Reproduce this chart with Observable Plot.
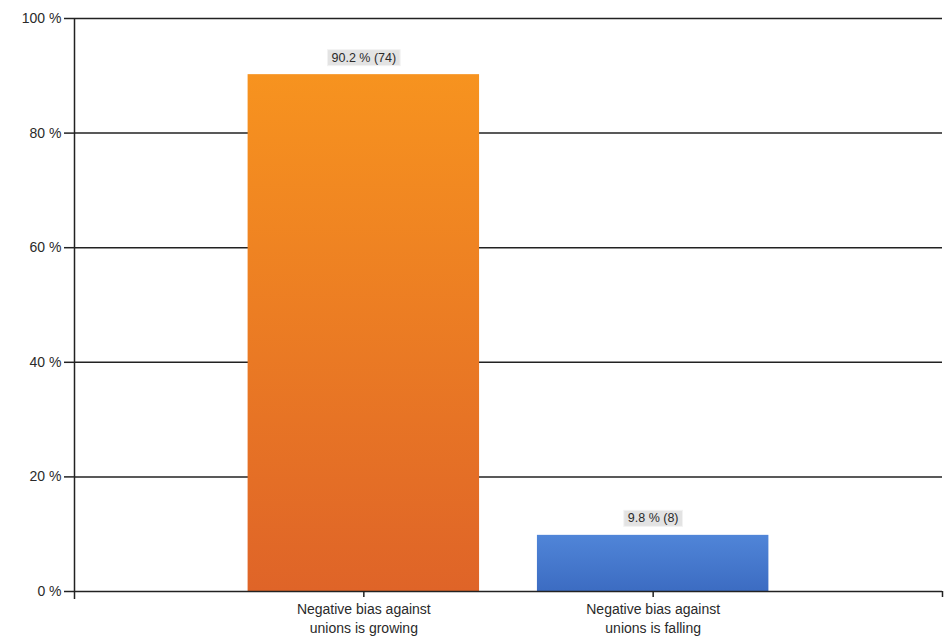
<!DOCTYPE html>
<html>
<head>
<meta charset="utf-8">
<script src="https://cdn.jsdelivr.net/npm/d3@7"></script>
<script src="https://cdn.jsdelivr.net/npm/@observablehq/plot@0.6"></script>
<style>
  html, body { margin: 0; padding: 0; background: #fff; }
  #chart svg { display: block; }
</style>
</head>
<body>
<div id="chart"></div>
<script>
const categories = ["Negative bias against\nunions is growing", "Negative bias against\nunions is falling"];
const percents = [90.2, 9.8];
const counts = [74, 8];
const yTicks = [0, 20, 40, 60, 80, 100];
const gradients = [["#f7931f", "#df6428"], ["#5085d8", "#3c6cc2"]];

const data = categories.map((c, i) => ({
  pos: i + 1,
  category: c,
  value: percents[i],
  count: counts[i],
  label: `${percents[i]} % (${counts[i]})`,
  fill: `url(#grad${i})`
}));

const chart = Plot.plot({
  width: 950,
  height: 643,
  marginLeft: 74,
  marginRight: 8,
  marginTop: 18,
  marginBottom: 52,
  style: { fontFamily: "'Liberation Sans', Arial, sans-serif", color: "#2a2a2a", background: "#fff" },
  x: { type: "linear", domain: [0, 3], axis: null, label: null },
  y: { domain: [0, 100], axis: null, label: null },
  color: { type: "identity" },
  marks: [
    Plot.ruleY(yTicks.filter(d => d > 0), { stroke: "#222", strokeWidth: 1.5 }),
    Plot.rectY(data, { x1: d => d.pos - 0.4, x2: d => d.pos + 0.4, y1: 0, y2: "value", fill: "fill" }),
    Plot.ruleY([0], { stroke: "#222", strokeWidth: 1.5 }),
    Plot.ruleX([0], { stroke: "#222", strokeWidth: 1.5, insetBottom: -8 }),
    Plot.axisY({ ticks: yTicks, label: null, tickSize: 10, tickPadding: 3, tickFormat: d => `${d} %`, fontSize: 14, stroke: "#222", strokeWidth: 1.5, style: { letterSpacing: "0.2px" } }),
    Plot.axisX({ ticks: [1, 2, 3], label: null, tickSize: 6, tickPadding: 3, tickFormat: d => (categories[d - 1] ?? ""), fontSize: 14, lineHeight: 1.35, stroke: "#222", strokeWidth: 1.5, style: { letterSpacing: "1px" } }),
    Plot.text(data, { x: "pos", y: "value", text: "label", dy: -17, fontSize: 12.5, fill: "#2a2a2a", className: "vlabel" })
  ]
});

document.getElementById("chart").appendChild(chart);

// gradients
const NS = "http://www.w3.org/2000/svg";
const defs = document.createElementNS(NS, "defs");
gradients.forEach((g, i) => {
  const lg = document.createElementNS(NS, "linearGradient");
  lg.setAttribute("id", `grad${i}`);
  lg.setAttribute("x1", "0"); lg.setAttribute("y1", "0");
  lg.setAttribute("x2", "0"); lg.setAttribute("y2", "1");
  [[0, g[0]], [1, g[1]]].forEach(([o, c]) => {
    const s = document.createElementNS(NS, "stop");
    s.setAttribute("offset", o);
    s.setAttribute("stop-color", c);
    lg.appendChild(s);
  });
  defs.appendChild(lg);
});
chart.insertBefore(defs, chart.firstChild);

// label background boxes
chart.querySelectorAll(".vlabel text").forEach(t => {
  const b = t.getBBox();
  const tr = t.getAttribute("transform");
  const r = document.createElementNS(NS, "rect");
  r.setAttribute("x", b.x - 4);
  r.setAttribute("y", b.y - 1);
  r.setAttribute("width", b.width + 8);
  r.setAttribute("height", b.height + 2);
  r.setAttribute("fill", "#e3e3e3");
  r.setAttribute("stroke", "#f2f2f2");
  if (tr) r.setAttribute("transform", tr);
  t.parentNode.insertBefore(r, t);
});
</script>
</body>
</html>
